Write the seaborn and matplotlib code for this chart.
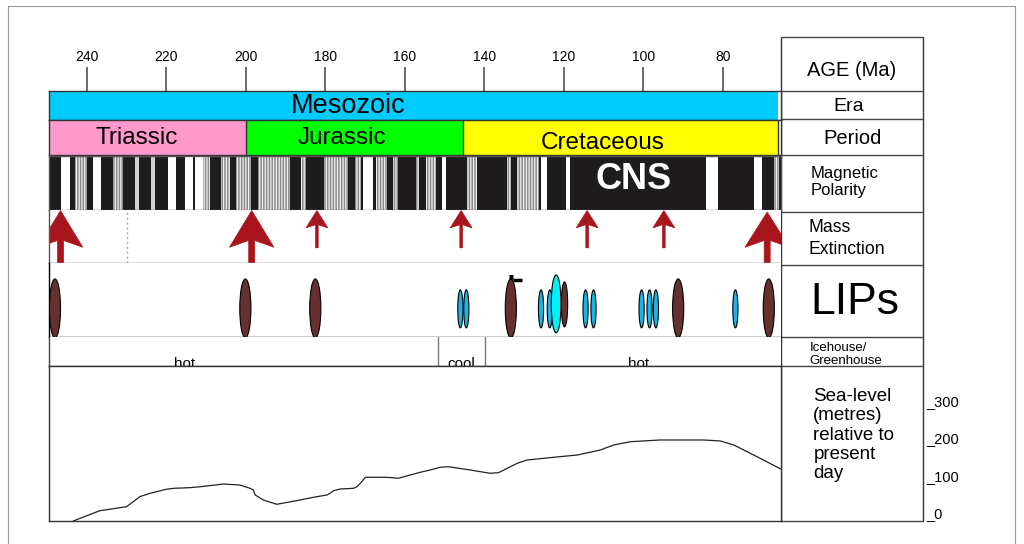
import numpy as np
import pandas as pd
import matplotlib
matplotlib.use("Agg")
import matplotlib.pyplot as plt
import seaborn as sns
from matplotlib.patches import Rectangle, Ellipse, Polygon

# ------------------------------------------------------------------ data
age_ticks = [240, 220, 200, 180, 160, 140, 120, 100, 80]

era_names = ["Mesozoic"]
era_start = [252.0]
era_end = [66.0]
era_label_age = [174.2]

period_names = ["Triassic", "Jurassic", "Cretaceous"]
period_start = [252.0, 200.0, 145.3]
period_end = [200.0, 145.3, 66.0]
period_label_age = [227.4, 175.7, 110.3]
period_colors = ["#FF99CC", "#00FF00", "#FFFF00"]

# magnetic polarity: light stripes on a dark (reversed) background
pol_start = [246.58, 242.90, 238.44, 233.41, 227.79, 223.76, 219.56, 215.35, 212.83,
             210.74, 206.13, 202.36, 196.89, 185.99, 180.27, 172.54, 170.45, 167.10,
             162.90, 157.28, 154.76, 150.73, 144.26, 134.19, 131.67, 125.80, 119.33,
             84.25, 72.06, 67.03]
pol_end = [244.31, 239.88, 236.35, 230.89, 226.94, 222.76, 217.47, 213.26, 210.74,
           209.06, 204.02, 198.58, 188.91, 184.73, 174.23, 170.88, 167.93, 164.58,
           161.81, 156.42, 152.24, 149.73, 141.74, 133.36, 126.20, 124.11, 118.50,
           81.05, 70.15, 65.77]
pol_kind = ["w", "g", "w", "g", "l", "l", "w", "w", "w",
            "g", "g", "g", "g", "g", "g", "g", "w", "g",
            "g", "g", "g", "w", "g", "g", "g", "w", "w",
            "w", "w", "g"]
cns_age = 102.3

mass_ext_age = [246.6, 198.5, 182.1, 145.8, 114.1, 94.8, 68.8]
mass_ext_size = ["big", "big", "small", "small", "small", "small", "big"]
minor_event_age = [229.8]

lip_age = [248.0, 200.1, 182.5, 146.0, 144.5, 133.3, 125.7, 123.5, 119.8, 121.9,
           114.5, 112.5, 100.4, 98.4, 96.8, 91.2, 76.8, 68.4]
lip_kind = ["major", "major", "major", "minor", "minor", "major", "minor", "minor",
            "major_s", "oceanic", "minor", "minor", "minor", "minor", "minor",
            "major", "minor", "major"]

climate_labels = ["hot", "cool", "hot"]
climate_label_age = [215.5, 145.8, 101.2]
climate_bounds = [151.7, 139.9]

sea_age = [243.4, 236.7, 230.0, 226.6, 224.1, 220.0, 218.2, 214.1, 211.5, 205.6,
           201.5, 198.9, 198.1, 197.6, 195.6, 192.2, 186.3, 183.0, 179.6, 178.8,
           177.9, 176.2, 172.9, 172.0, 170.8, 169.9, 164.5, 161.6, 156.1, 153.6,
           151.1, 149.0, 143.5, 138.5, 136.4, 131.7, 129.2, 122.5, 116.6, 110.8,
           107.4, 103.2, 95.7, 90.6, 84.8, 80.6, 77.2, 72.2, 65.4]
sea_level = [0.0, 27.6, 38.3, 65.4, 74.2, 85.0, 87.6, 89.3, 91.8, 99.1,
             96.5, 87.6, 83.1, 69.7, 56.3, 44.8, 56.3, 63.5, 69.7, 74.2,
             81.2, 85.8, 87.6, 92.0, 105.4, 117.2, 117.2, 114.5, 130.6, 136.7,
             144.0, 145.6, 136.7, 127.9, 129.5, 154.7, 163.5, 170.8, 176.9, 190.3,
             203.8, 212.6, 217.2, 217.2, 217.2, 214.5, 203.8, 176.9, 139.4]
sea_ticks = [0, 100, 200, 300]

# ------------------------------------------------------------------ style
sns.set_theme(style="white")
plt.rcParams["font.family"] = ["Liberation Sans", "DejaVu Sans"]
plt.rcParams["text.color"] = "black"
plt.rcParams["xtick.color"] = "black"
plt.rcParams["ytick.color"] = "black"
plt.rcParams["hatch.linewidth"] = 0.9

W, H = 1024, 544
fig = plt.figure(figsize=(W / 100, H / 100), dpi=100)
fig.patch.set_facecolor("white")

X0, X1 = 49.0, 780.7
XLIM = (249.5, 65.4)


def px_axes(x0, y0, x1, y1, z=2):
    ax = fig.add_axes([x0 / W, 1 - y1 / H, (x1 - x0) / W, (y1 - y0) / H], zorder=z)
    return ax


# overlay (right-hand label column and frame)
ov = fig.add_axes([0, 0, 1, 1], zorder=0)
ov.set_xlim(0, W)
ov.set_ylim(H, 0)
ov.axis("off")
ov.patch.set_alpha(0)
ov.add_patch(Rectangle((8, 6), 1007, 560, fill=False, ec="#9a9a9a", lw=0.8))
RC0, RC1 = 780.7, 922.7
row_lines = [36.7, 90.7, 119.3, 154.7, 211.7, 265.0, 336.7, 365.7, 521.0]
for y in row_lines:
    ov.plot([RC0, RC1], [y, y], color="#444444", lw=1.0, zorder=5)
ov.plot([RC0, RC0], [36.7, 521], color="#333333", lw=1.0)
ov.plot([RC1, RC1], [36.7, 521], color="#333333", lw=1.0)
ov.text(852, 70, "AGE (Ma)", ha="center", va="center", fontsize=14.5)
ov.text(849, 106.5, "Era", ha="center", va="center", fontsize=14)
ov.text(852.3, 138.5, "Period", ha="center", va="center", fontsize=14.5)
ov.text(810.5, 182, "Magnetic\nPolarity", ha="left", va="center", fontsize=12, linespacing=1.2)
ov.text(808.3, 238.5, "Mass\nExtinction", ha="left", va="center", fontsize=12.7, linespacing=1.4)
ov.text(810.5, 302, "LIPs", ha="left", va="center", fontsize=32)
ov.text(809.3, 354.5, "Icehouse/\nGreenhouse", ha="left", va="center", fontsize=9.5,
        linespacing=1.2, zorder=2)
ov.text(813.3, 435, "Sea-level\n(metres)\nrelative to\npresent\nday", ha="left", va="center",
        fontsize=13.5, linespacing=1.17)

# ---------------------------------------------------------------- era row
ax_era = px_axes(X0, 91.3, X1, 119.5)
for s, e in zip(era_start, era_end):
    ax_era.axvspan(e, s, color="#00CCFF", lw=0)
for name, a in zip(era_names, era_label_age):
    ax_era.text(a, 0.47, name, ha="center", va="center", fontsize=19.5,
                transform=ax_era.get_xaxis_transform())
ax_era.set_xlim(*XLIM)
ax_era.set_yticks([])
ax_era.xaxis.tick_top()
ax_era.set_xticks(age_ticks)
ax_era.set_xticklabels([str(t) for t in age_ticks])
ax_era.tick_params(axis="x", direction="out", length=17, width=1.1, color="#444444",
                   labelsize=10, pad=3, top=True, bottom=False)
for sp in ax_era.spines.values():
    sp.set_color("#333333")
    sp.set_linewidth(1.0)

# ------------------------------------------------------------- period row
ax_per = px_axes(X0, 119.5, X1, 154.8)
for name, s, e, c, a in zip(period_names, period_start, period_end, period_colors, period_label_age):
    ax_per.axvspan(e, s, color=c, lw=0)
    ax_per.axvline(e, color="#333333", lw=1.0)
    yy = 0.47 if name != "Cretaceous" else 0.34
    ax_per.text(a, yy, name, ha="center", va="center", fontsize=17.5,
                transform=ax_per.get_xaxis_transform())
ax_per.set_xlim(*XLIM)
ax_per.set_xticks([])
ax_per.set_yticks([])
for sp in ax_per.spines.values():
    sp.set_color("#333333")
    sp.set_linewidth(1.0)

# ----------------------------------------------------------- polarity row
ax_mag = px_axes(X0, 155.8, X1, 210.0)
ax_mag.set_facecolor("#1e1c1c")
for s, e, k in zip(pol_start, pol_end, pol_kind):
    if k == "w":
        ax_mag.axvspan(e, s, color="white", lw=0)
    elif k == "l":
        ax_mag.axvspan(e, s, color="#d2d2d2", lw=0)
    else:
        ax_mag.axvspan(e, s, facecolor="#8a8a8a", edgecolor="#f0f0f0", hatch="||||||", lw=0)
ax_mag.text(cns_age, 0.56, "CNS", ha="center", va="center", fontsize=26, fontweight="bold",
            color="white", transform=ax_mag.get_xaxis_transform())
ax_mag.set_xlim(*XLIM)
ax_mag.set_xticks([])
ax_mag.set_yticks([])
for sp in ax_mag.spines.values():
    sp.set_color("#555555")
    sp.set_linewidth(1.0)

# ------------------------------------------------------- mass extinctions
ax_me = px_axes(X0, 210.0, X1, 262.5)
ax_me.set_xlim(*XLIM)
ax_me.set_ylim(0, 1)
arrow_geo = {
    # head half-width (Ma), shaft half-width (Ma), head base, notch, shaft bottom
    "big": (5.6, 0.75, 0.29, 0.42, 0.0),
    "small": (2.75, 0.33, 0.66, 0.72, 0.28),
}
for a, size in zip(mass_ext_age, mass_ext_size):
    hw, sw, hb, nt, sb = arrow_geo[size]
    tip = 0.99 if a > 70 else 0.96
    poly = [(a, tip), (a - hw, hb), (a - sw, nt), (a - sw, sb), (a + sw, sb),
            (a + sw, nt), (a + hw, hb)]
    ax_me.add_patch(Polygon(poly, closed=True, fc="#A8151C", ec="#A8151C", lw=0.5))
for a in minor_event_age:
    ax_me.axvline(a, ls=(0, (1.5, 2)), color="#aaaaaa", lw=1.0)
ax_me.set_xticks([])
ax_me.set_yticks([])
for k, sp in ax_me.spines.items():
    sp.set_color("#555555")
    sp.set_linewidth(1.0)
ax_me.spines["top"].set_visible(False)
ax_me.spines["right"].set_visible(False)

# ------------------------------------------------------------------- LIPs
ax_lip = px_axes(X0, 262.5, X1, 337.3)
ax_lip.set_xlim(*XLIM)
ax_lip.set_ylim(0, 75)
lip_style = {
    # width (Ma), height, centre, colour, zorder
    "major": (2.8, 59, 29.0, "#66302F", 3),
    "major_s": (1.6, 45, 33.0, "#66302F", 2),
    "minor": (1.3, 38, 28.5, "#19B5E8", 3),
    "oceanic": (2.45, 58, 33.5, "#00F2F5", 4),
}
for a, k in zip(lip_age, lip_kind):
    w, h, c, col, z = lip_style[k]
    ax_lip.add_patch(Ellipse((a, c), w, h, fc=col, ec="black", lw=0.8, zorder=z))
    if k == "major" and 130 < a < 136:
        top = c + h / 2
        ax_lip.plot([a + 0.5, a - 0.5], [top + 1.5, top + 1.5], color="black", lw=3.5,
                    solid_capstyle="butt", zorder=5)
        ax_lip.plot([a - 0.5, a - 2.7], [top - 1.5, top - 1.5], color="black", lw=2.5,
                    solid_capstyle="butt", zorder=5)
ax_lip.set_xticks([])
ax_lip.set_yticks([])
for sp in ax_lip.spines.values():
    sp.set_color("black")
    sp.set_linewidth(1.0)
ax_lip.spines["top"].set_visible(False)
ax_lip.spines["right"].set_visible(False)

# -------------------------------------------------------- climate (ice) row
ax_ice = px_axes(X0, 337.3, X1, 366.0)
ax_ice.set_xlim(*XLIM)
ax_ice.set_ylim(0, 1)
for b in climate_bounds:
    ax_ice.axvline(b, color="#777777", lw=1.0)
for lab, a in zip(climate_labels, climate_label_age):
    ax_ice.text(a, -0.07, lab, ha="center", va="baseline", fontsize=11, clip_on=True)
ax_ice.set_xticks([])
ax_ice.set_yticks([])
for sp in ax_ice.spines.values():
    sp.set_color("#444444")
    sp.set_linewidth(1.0)
ax_ice.spines["top"].set_visible(False)
ax_ice.spines["right"].set_visible(False)

# ---------------------------------------------------------------- sea level
ax_sea = px_axes(X0, 366.0, X1, 521.0)
df = pd.DataFrame({"age": sea_age, "sea": sea_level})
sns.lineplot(data=df, x="age", y="sea", sort=False, color="#222222", lw=0.9, ax=ax_sea)
ax_sea.set_xlim(*XLIM)
ax_sea.set_ylim(0, 415.5)
ax_sea.set_xlabel("")
ax_sea.set_ylabel("")
ax_sea.set_xticks([])
ax_sea.yaxis.tick_right()
ax_sea.set_yticks(sea_ticks)
ax_sea.set_yticklabels(["_" + str(t) for t in sea_ticks])
ax_sea.tick_params(axis="y", length=0, pad=105, labelsize=10.5, right=True, left=False)
for lbl in ax_sea.get_yticklabels():
    lbl.set_va("bottom")
for sp in ax_sea.spines.values():
    sp.set_color("#333333")
    sp.set_linewidth(1.0)

fig.savefig("out.png", dpi=100)
